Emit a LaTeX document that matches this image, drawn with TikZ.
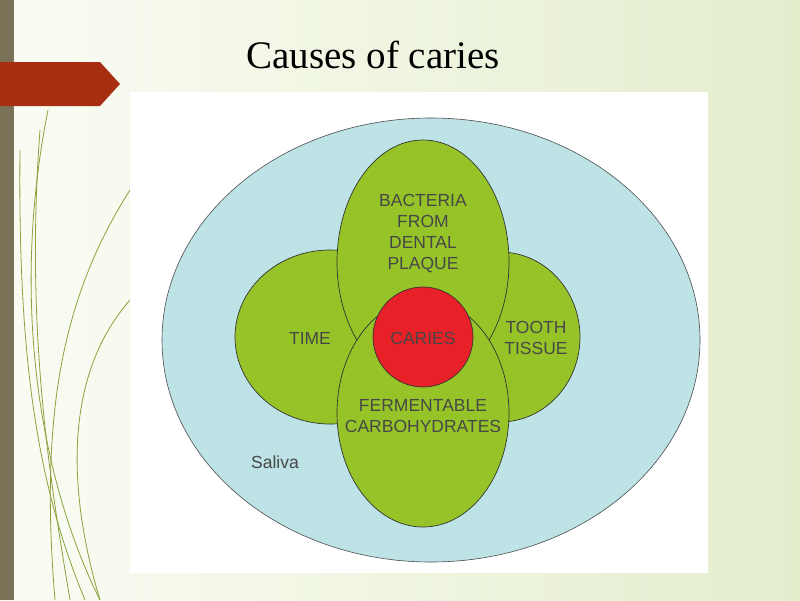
\documentclass[tikz,border=0pt]{standalone}
\usepackage{fontspec}
\setmainfont{Liberation Serif}
\newfontfamily\arial{Liberation Sans}
\definecolor{bgL}{RGB}{250,252,244}
\definecolor{bgR}{RGB}{228,238,205}
\definecolor{strip}{RGB}{122,114,86}
\definecolor{decoC}{RGB}{140,160,60}
\definecolor{arrowC}{RGB}{168,46,18}
\definecolor{salivaC}{RGB}{189,227,230}
\definecolor{lobeC}{RGB}{150,196,40}
\definecolor{cariesC}{RGB}{232,32,40}
\begin{document}
\begin{tikzpicture}[x=1pt,y=-1pt,
  lobe/.style={fill=lobeC, draw=black!80, line width=0.7pt},
  lbl/.style={font=\arial\fontsize{17.5}{21}\selectfont, text=black!72, align=center},
  deco/.style={draw=decoC, line width=0.8pt}]
\shade[left color=bgL, right color=bgR] (0,0) rectangle (800,600);
\useasboundingbox (0,0) rectangle (800,600);
\fill[strip] (0,0) rectangle (14,600);
\draw[deco] (48,110) .. controls (10,300) and (40,480) .. (100,600);
\draw[deco] (40,130) .. controls (25,330) and (50,480) .. (70,600);
\draw[deco] (130,300) .. controls (60,380) and (70,500) .. (100,600);
\draw[deco] (130,190) .. controls (60,300) and (40,420) .. (55,600);
\draw[deco] (20,150) .. controls (18,350) and (35,480) .. (85,600);
\fill[arrowC] (0,62) -- (100,62) -- (120,84) -- (100,106) -- (0,106) -- cycle;
\node[font=\fontsize{39}{44}\selectfont] (title) at (373,55) {Causes of caries};
\fill[white] (130,92) rectangle (708,573);
\filldraw[fill=salivaC, draw=black!70, line width=0.6pt] (431,340) ellipse [x radius=269, y radius=222];
\path[lobe] (330,337) ellipse [x radius=95, y radius=87];
\path[lobe] (500,337) ellipse [x radius=80, y radius=85];
\path[lobe] (423,262) ellipse [x radius=86, y radius=122];
\path[lobe] (423,413) ellipse [x radius=86, y radius=114];
\filldraw[fill=cariesC, draw=black!80, line width=0.7pt] (423,337) circle (50);
\node[lbl] (bact) at (423,234) {BACTERIA\\FROM\\DENTAL\\PLAQUE};
\node[lbl] (time) at (310,338) {TIME};
\node[lbl] (tooth) at (536,338) {TOOTH\\TISSUE};
\node[lbl] (caries) at (423,338) {CARIES};
\node[lbl] (ferm) at (423,416) {FERMENTABLE\\CARBOHYDRATES};
\node[lbl] (sal) at (275,462) {Saliva};
\end{tikzpicture}
\end{document}
